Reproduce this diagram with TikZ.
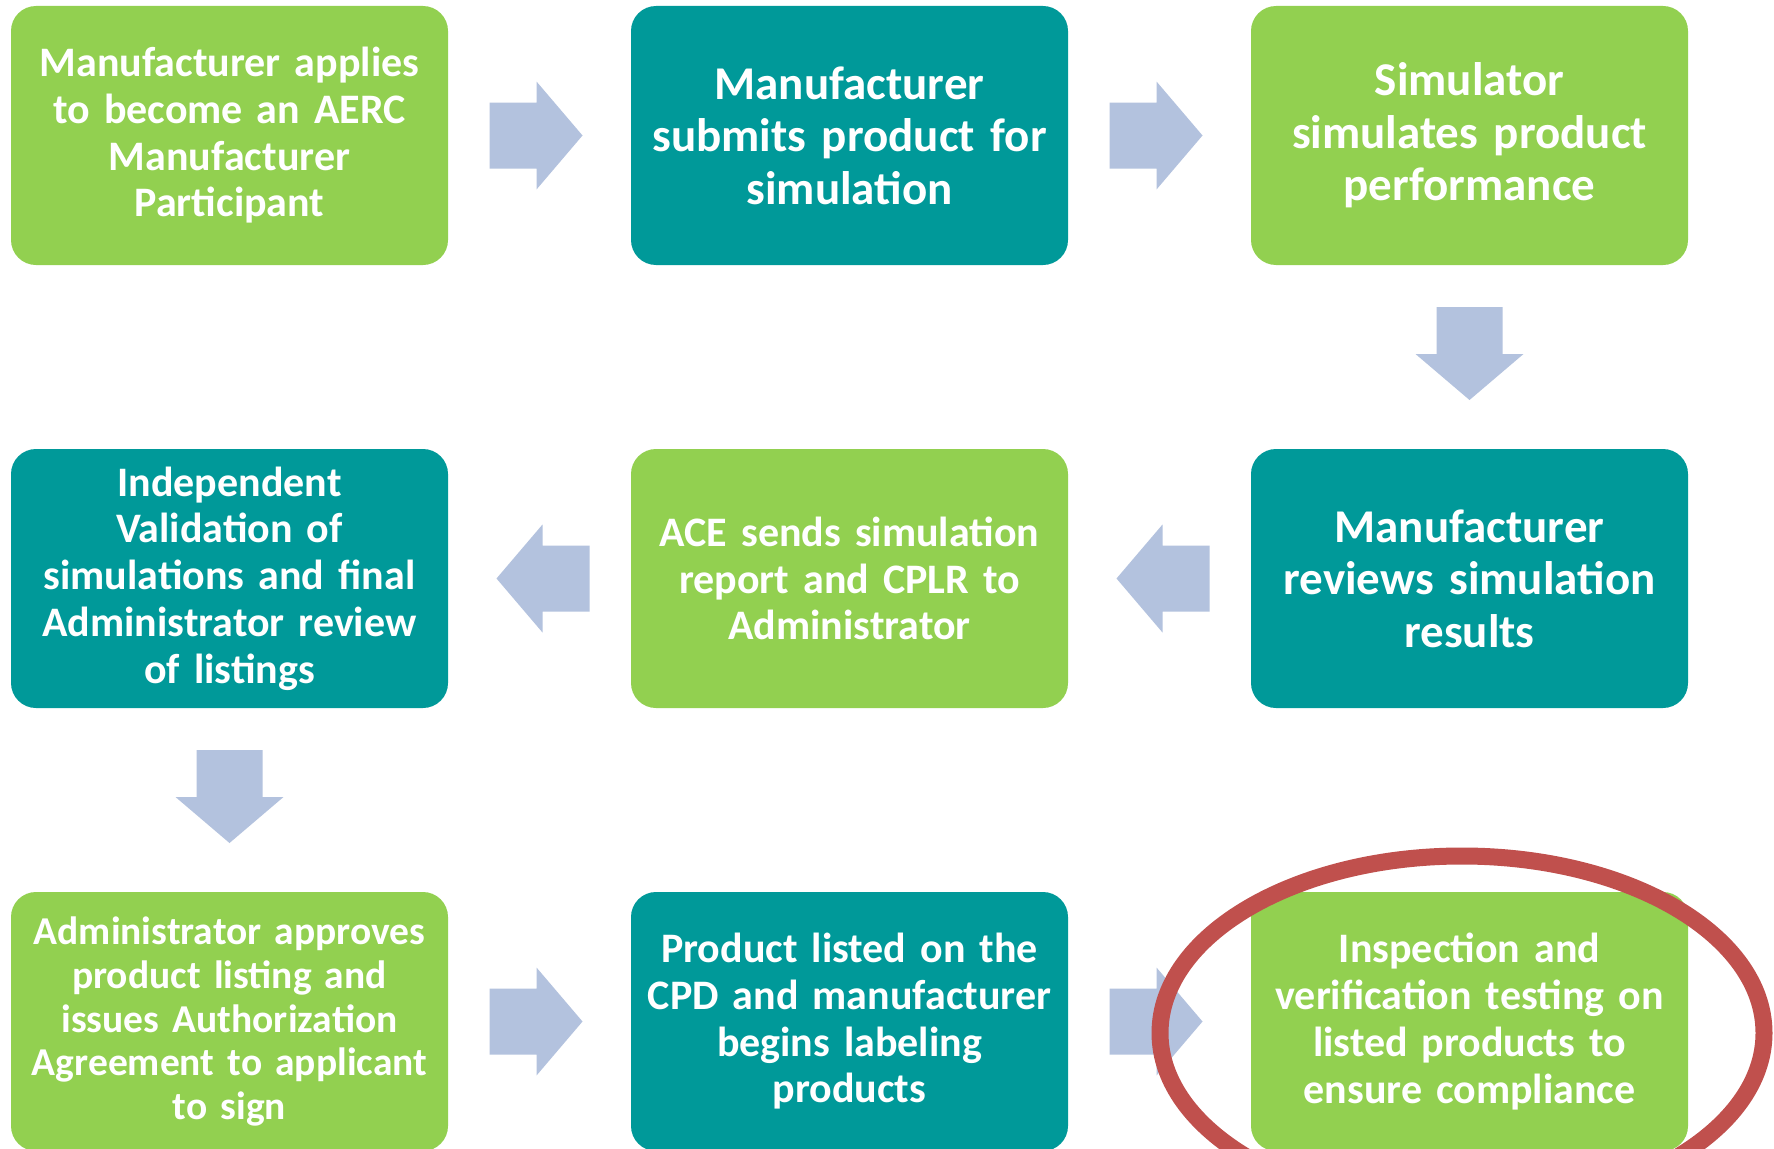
\documentclass[tikz,border=0pt]{standalone}
\usepackage{fontspec}
\setmainfont{Carlito}
\usetikzlibrary{calc}

\definecolor{boxgreen}{HTML}{92D050}
\definecolor{boxteal}{HTML}{009999}
\definecolor{arrowblue}{HTML}{B3C2DE}
\definecolor{ringred}{HTML}{C0504D}

\tikzset{
  flowbox/.style={rounded corners=25pt, minimum width=437pt, minimum height=259pt,
    text width=430pt, align=center, text=white, inner sep=0pt},
  greenbox/.style={flowbox, fill=boxgreen},
  tealbox/.style={flowbox, fill=boxteal},
  bigtext/.style={font=\fontsize{47}{52.6}\selectfont\bfseries},
  midtext/.style={font=\fontsize{42}{46.7}\selectfont\bfseries},
  smalltext/.style={font=\fontsize{39.5}{43.8}\selectfont\bfseries},
  blockarrow/.style={fill=arrowblue}
}

\begin{document}
\begin{tikzpicture}[x=1pt,y=-1pt]
      \clip (0,0) rectangle (1774,1148);
      \fill[white] (0,0) rectangle (1774,1148);
      % first row
      \node[greenbox,midtext] (b1) at (229.5,135.5) {Manufacturer applies\\to become an AERC\\Manufacturer\\Participant};
      \node[tealbox,bigtext]  (b2) at (849.5,135.5) {Manufacturer\\submits product for\\simulation};
      \node[greenbox,bigtext] (b3) at (1469.5,135.5) {Simulator\\simulates product\\performance};
      % second row
      \node[tealbox,bigtext]  (b4) at (1469.5,578.5) {Manufacturer\\reviews simulation\\results};
      \node[greenbox,midtext] (b5) at (849.5,578.5) {ACE sends simulation\\report and CPLR to\\Administrator};
      \node[tealbox,midtext]  (b6) at (229.5,578.5) {Independent\\Validation of\\simulations and final\\Administrator review\\of listings};
      % third row
      \node[greenbox,smalltext] (b7) at (229.5,1021.5) {Administrator approves\\product listing and\\issues Authorization\\Agreement to applicant\\to sign};
      \node[tealbox,midtext]    (b8) at (849.5,1021.5) {Product listed on the\\CPD and manufacturer\\begins labeling\\products};
      \node[greenbox,midtext]   (b9) at (1469.5,1021.5) {Inspection and\\verification testing on\\listed products to\\ensure compliance};

      \coordinate (a12) at ($(b1.east)!0.5!(b2.west)$);
      \coordinate (a23) at ($(b2.east)!0.5!(b3.west)$);
      \coordinate (a34) at ($(b3.south)!0.5!(b4.north)$);
      \coordinate (a45) at ($(b4.west)!0.5!(b5.east)$);
      \coordinate (a56) at ($(b5.west)!0.5!(b6.east)$);
      \coordinate (a67) at ($(b6.south)!0.5!(b7.north)$);
      \coordinate (a78) at ($(b7.east)!0.5!(b8.west)$);
      \coordinate (a89) at ($(b8.east)!0.5!(b9.west)$);

      % block arrows
      \foreach \pos/\turn in {a12/0, a23/0, a34/-90, a45/180, a56/180, a67/-90, a78/0, a89/0}
        \fill[blockarrow, shift={(\pos)}, rotate=\turn]
          (-50,-33) -- (-3,-33) -- (-3,-54) -- (43,0) -- (-3,54) -- (-3,33) -- (-50,33) -- cycle;

      % ring round the last step
      \draw[ringred, line width=17pt] (1462,1033) ellipse [x radius=302, y radius=177];
    \end{tikzpicture}
\end{document}
